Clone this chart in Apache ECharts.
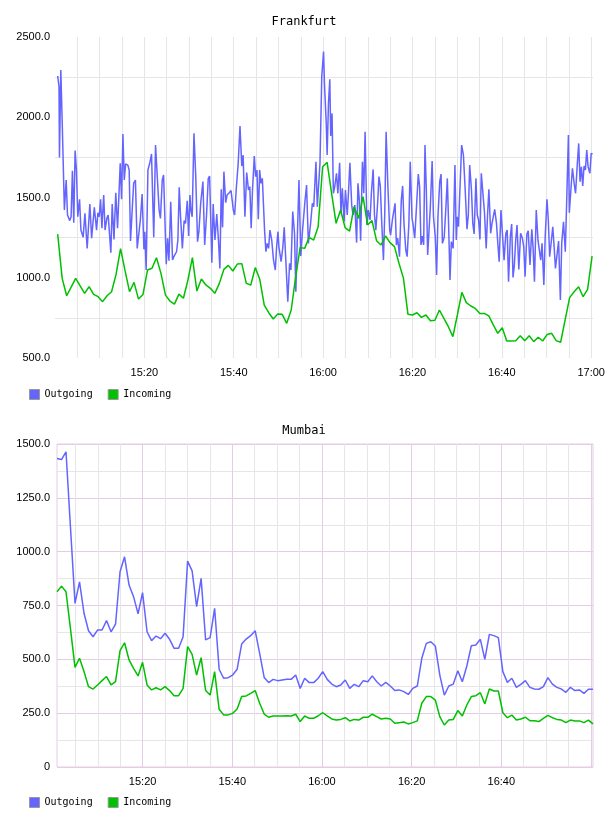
<!DOCTYPE html>
<html>
<head>
<meta charset="utf-8">
<script src="https://cdn.jsdelivr.net/npm/echarts@6/dist/echarts.min.js"></script>
<style>
  body { margin: 0; background: #fff; }
  .chart { position: absolute; left: 0; width: 608px; height: 408px; }
</style>
</head>
<body>
<div id="frankfurt" class="chart" style="top: 0"></div>
<div id="mumbai" class="chart" style="top: 408px"></div>
<script>
// all times are minutes after 15:00
const seriesNames = ['Outgoing', 'Incoming']
const seriesColors = ['#6464ff', '#00c000']

const frankfurtOutTimes = [
  0.6, 0.9, 1.0, 1.3, 1.6, 2.1, 2.5, 2.8, 3.3, 3.6,
  3.9, 4.2, 4.5, 4.8, 5.1, 5.5, 5.8, 6.3, 6.7, 7.2,
  7.8, 8.2, 8.8, 9.3, 9.6, 9.9, 10.2, 10.5, 10.9, 11.2,
  11.6, 11.9, 12.5, 12.8, 13.2, 13.6, 14.0, 14.6, 14.9, 15.2,
  15.5, 15.8, 16.3, 16.6, 16.9, 17.2, 17.6, 18.0, 18.4, 18.7,
  19.1, 19.5, 19.9, 20.1, 20.4, 20.8, 21.2, 21.6, 22.1, 22.5,
  22.9, 23.3, 23.6, 24.0, 24.3, 24.5, 24.9, 25.2, 25.5, 25.9,
  26.3, 26.6, 27.2, 27.5, 27.8, 28.1, 28.5, 28.9, 29.2, 29.6,
  29.9, 30.2, 30.4,
  30.7, 31.1, 31.5, 31.9, 32.2, 32.6, 33.1, 33.5, 33.9, 34.3,
  34.6, 35.1, 35.4, 35.8, 36.2, 36.6, 36.9, 37.2, 37.5, 37.8,
  38.2, 38.5, 39.0, 39.4, 39.9, 40.2, 40.6, 41.0, 41.4, 41.8,
  42.1, 42.5, 42.9, 43.3, 43.6, 43.9, 44.2, 44.6, 44.9, 45.2,
  45.5, 45.8, 46.1, 46.4, 46.9, 47.2, 47.5, 47.8, 48.1, 48.5,
  48.9, 49.3, 49.6, 49.9, 50.1, 50.6, 51.0, 51.3, 51.7, 52.1,
  52.5, 52.8, 53.2, 53.6, 53.9, 54.3, 54.6, 55.0, 55.4, 55.9,
  56.3, 56.7, 57.2, 57.6, 57.9, 58.4, 58.7, 59.0, 59.3, 59.7,
  60.1,
  60.3, 60.7, 60.9, 61.2, 61.5, 61.7, 62.0, 62.3, 62.6, 63.0,
  63.3, 63.7, 64.0, 64.3, 64.7, 65.0, 65.4, 65.7, 66.0, 66.4,
  66.7, 67.1, 67.5, 67.8, 68.1, 68.4, 68.8, 69.1, 69.4, 69.8,
  70.1, 70.5, 70.8, 71.2, 71.5, 71.8, 72.2, 72.5, 72.8, 73.1,
  73.5, 73.8, 74.1, 74.5, 74.9, 75.1, 75.5, 75.8, 76.1, 76.4,
  76.7, 77.1, 77.5, 77.8, 78.1, 78.5, 78.8, 79.2, 79.5, 79.9,
  80.1, 80.5, 80.9, 81.3, 81.6, 81.9, 82.2, 82.5, 82.8, 83.1,
  83.4, 83.7, 84.0, 84.4, 84.7, 85.1, 85.4, 85.7, 86.1, 86.4,
  86.7, 87.1, 87.5, 87.8, 88.1, 88.4, 88.7, 89.1, 89.5, 89.8,
  90.0, 90.3, 90.6, 91.0, 91.4, 91.8, 92.2, 92.5, 92.8, 93.2,
  93.5, 93.8, 94.2, 94.5, 94.8, 95.1, 95.4, 95.7, 96.1, 96.5,
  96.8, 97.1, 97.5, 97.8, 98.1, 98.4, 98.8, 99.1, 99.4, 99.8,
  100.1, 100.5, 100.9, 101.2, 101.5, 101.9, 102.2, 102.5, 102.8, 103.1,
  103.4, 103.8, 104.2, 104.6, 104.9, 105.2, 105.6, 105.9, 106.3, 106.7,
  107.0, 107.3, 107.7, 108.1, 108.4, 108.7, 109.0, 109.4, 109.7, 110.1,
  110.4, 110.7, 111.1, 111.4, 111.7, 112.0, 112.4, 112.7, 113.1, 113.4,
  113.8, 114.2, 114.5, 114.9, 115.1, 115.5, 115.8, 116.2, 116.5, 116.9,
  117.2, 117.5, 117.8, 118.1, 118.4, 118.7, 119.0, 119.3, 119.7, 120.0,
  120.3
]
const frankfurtOutgoing = [
  2257, 2190, 1750, 2294, 1983, 1422, 1609, 1391, 1356, 1380,
  1667, 1343, 1792, 1671, 1380, 1489, 1297, 1252, 1401, 1183,
  1459, 1246, 1439, 1297, 1405, 1380, 1489, 1308, 1515, 1297,
  1370, 1391, 1156, 1459, 1239, 1530, 1308, 1713, 1489, 1896,
  1609, 1709, 1702, 1671, 1229, 1235, 1588, 1609, 1183, 1173,
  1360, 1522, 1177, 1287, 1048, 1671, 1713, 1771, 1252, 1827,
  1827, 1422, 1370, 1609, 1640, 1630, 1084, 1246, 1106, 1474,
  1110, 1131, 1162, 1235, 1563, 1380, 1183, 1356, 1339, 1480,
  1260, 1515, 1422,
  1380, 1900, 1630, 1225, 1287, 1464, 1599, 1204, 1385, 1619,
  1634, 1094, 1459, 1235, 1397, 1225, 1058, 1551, 1314, 1661,
  1468, 1515, 1530, 1543, 1422, 1391, 1567, 1713, 1945, 1696,
  1765, 1380, 1655, 1547, 1567, 1308, 1547, 1758, 1630, 1671,
  1364, 1671, 1588, 1619, 1297, 1162, 1214, 1183, 1297, 1235,
  1110, 1048, 1194, 1287, 1194, 1100, 1194, 1314, 1318, 851,
  1090, 1048, 1412, 1277, 913, 1318, 1609, 1135, 1297, 1464,
  1578, 1214, 1339, 1464, 1443, 1723, 1443, 1432, 1713, 2253,
  2409,
  2211, 1962, 1765, 2087, 2236, 1883, 2024, 1526, 1567, 1651,
  1526, 1717, 1401, 1557, 1349, 1547, 1391, 1543, 1717, 1453,
  1391, 1453, 1219, 1588, 1484, 1231, 1723, 1526, 1910, 1329,
  1422, 1360, 1526, 1675, 1391, 1297, 1464, 1630, 1572, 1360,
  1110, 1405, 1910, 1567, 1297, 1266, 1360, 1370, 1464, 1204,
  1246, 1131, 1484, 1572, 1339, 1173, 1131, 1339, 1723, 1370,
  1339, 1246, 1443, 1646, 1567, 1204, 1260, 1204, 1827, 1547,
  1142, 1152, 1443, 1727, 1380, 1256, 1017, 1380, 1599, 1646,
  1214, 1252, 1447, 1619, 1318, 986, 1225, 1183, 1702, 1235,
  1380, 1318, 1318, 1827, 1765, 1547, 1302, 1391, 1702, 1547,
  1339, 1273, 1619, 1391, 1360, 1239, 1651, 1640, 1412, 1183,
  1391, 1551, 1277, 1339, 1343, 1426, 1339, 1214, 1100, 1422,
  1426, 1110, 1277, 1297, 975, 1256, 1335, 1002, 1079, 1235,
  1329, 1052, 1277, 1246, 1194, 1007, 1273, 1293, 1079, 1302,
  1183, 975, 1422, 1231, 1225, 1110, 1214, 955, 1256, 1489,
  1360, 1131, 1235, 1318, 1194, 1058, 1048, 1229, 861, 1214,
  1349, 1162, 1464, 1889, 1405, 1567, 1682, 1584, 1526, 1713,
  1837, 1599, 1692, 1572, 1696, 1671, 1796, 1692, 1651, 1775,
  1771
]

// incoming is sampled about once a minute
const frankfurtInStart = 0.6
const frankfurtInStep = 1.005
const frankfurtIncoming = [
  1272, 996, 888, 942, 996, 950, 903, 944, 896, 882,
  851, 888, 913, 1021, 1181, 1044, 913, 971, 867, 896,
  1048, 1059, 1125, 1027, 892, 855, 836, 898, 872, 986,
  1125, 917, 992, 955, 934, 903, 965, 1052, 1077, 1042,
  1085, 1088, 965, 955, 1063, 990, 830, 782, 743, 774,
  772, 716, 799, 1007, 1189, 1183, 1252, 1235, 1318, 1692,
  1719, 1526, 1339, 1422, 1312, 1291, 1443, 1370, 1505, 1329,
  1356, 1231, 1204, 1260, 1219, 1194, 1090, 996, 772, 768,
  782, 753, 768, 732, 735, 799, 747, 695, 633, 768,
  909, 845, 824, 809, 778, 778, 762, 706, 654, 689,
  606, 606, 608, 639, 608, 639, 602, 629, 606, 647,
  654, 608, 598, 737, 876, 913, 944, 882, 928, 1135
]

const mumbaiStart = 0.9
const mumbaiStep = 1.0045
const mumbaiOutgoing = [
  1433, 1428, 1464, 1110, 760, 860, 714, 633, 605, 636,
  636, 680, 628, 663, 907, 976, 845, 791, 711, 810,
  628, 587, 608, 596, 621, 593, 551, 551, 605, 956,
  911, 745, 876, 590, 601, 737, 454, 412, 415, 427,
  454, 571, 594, 610, 633, 528, 416, 392, 407, 401,
  404, 407, 407, 427, 365, 412, 392, 392, 412, 443,
  407, 385, 373, 381, 404, 365, 384, 373, 401, 396,
  423, 396, 376, 393, 376, 355, 358, 350, 337, 365,
  376, 505, 574, 582, 562, 427, 334, 376, 385, 447,
  396, 469, 563, 567, 593, 500, 616, 610, 601, 443,
  393, 412, 370, 384, 401, 370, 362, 361, 373, 415,
  385, 370, 362, 347, 370, 355, 358, 342, 361, 361
]
const mumbaiIncoming = [
  814, 840, 814, 640, 463, 505, 443, 373, 362, 381,
  401, 420, 381, 396, 540, 577, 497, 458, 423, 486,
  381, 358, 368, 358, 373, 355, 331, 331, 365, 559,
  523, 427, 508, 355, 334, 443, 268, 242, 242, 249,
  269, 327, 330, 342, 355, 296, 246, 231, 237, 237,
  237, 238, 237, 245, 211, 237, 226, 226, 238, 252,
  237, 223, 218, 221, 229, 214, 221, 218, 231, 231,
  245, 234, 223, 226, 223, 203, 206, 209, 200, 206,
  214, 296, 327, 327, 311, 234, 195, 218, 221, 262,
  237, 288, 327, 331, 345, 293, 362, 353, 353, 252,
  229, 241, 218, 223, 231, 215, 215, 211, 226, 240,
  229, 221, 218, 206, 218, 214, 214, 206, 218, 200
]

const mumbaiTickMinutes = [5, 10, 15, 20, 25, 30, 35, 40, 45, 50, 55, 60,
  65, 70, 75, 80, 85, 90, 95, 100, 105, 110, 115, 120]
const mumbaiLabelMinutes = [20, 40, 60, 80, 100]

const gridGray = '#e6e6e6'
const gridPink = '#e4cce4'
const monoFont = 'DejaVu Sans Mono'
const tickFont = { fontFamily: 'Liberation Sans', fontSize: 11, color: '#000' }

const timeLabel = (m) => {
  const h = 15 + Math.floor(m / 60)
  const mm = Math.round(m % 60)
  return h + ':' + String(mm).padStart(2, '0')
}
const valueLabel = (v) => (v === 0 ? '0' : v.toFixed(1))

const regular = (start, step, values) => values.map((v, i) => [start + i * step, v])

const legendBase = {
  left: 24,
  top: 384,
  icon: 'rect',
  itemWidth: 10,
  itemHeight: 10,
  itemGap: 15,
  itemStyle: { borderColor: '#999', borderWidth: 1 },
  textStyle: { fontFamily: monoFont, fontSize: 10, color: '#000' },
  data: seriesNames
}

const lineSeries = (i, data) => ({
  name: seriesNames[i],
  type: 'line',
  data: data,
  showSymbol: false,
  symbol: 'none',
  color: seriesColors[i],
  lineStyle: { width: 1.5, color: seriesColors[i] }
})

const titleStyle = { fontFamily: monoFont, fontSize: 12, fontWeight: 'normal', color: '#000' }

const frankfurtChart = echarts.init(document.getElementById('frankfurt'))
frankfurtChart.setOption({
  animation: false,
  title: { text: 'Frankfurt', left: 'center', top: 11, textStyle: titleStyle },
  legend: legendBase,
  grid: { left: 55, top: 37, width: 538, height: 321 },
  xAxis: {
    type: 'value',
    min: 0,
    max: 120.4,
    interval: 5,
    axisLine: { show: false },
    axisTick: { show: false },
    axisLabel: {
      ...tickFont,
      margin: 9,
      formatter: (v) => (v > 0 && v % 20 === 0 ? timeLabel(v) : '')
    },
    splitLine: { showMinLine: false, showMaxLine: false, lineStyle: { color: gridGray } }
  },
  yAxis: {
    type: 'value',
    min: 500,
    max: 2500,
    interval: 250,
    axisLine: { show: false },
    axisTick: { show: false },
    axisLabel: {
      ...tickFont,
      margin: 5,
      formatter: (v) => (v % 500 === 0 ? valueLabel(v) : '')
    },
    // only the lines half way between labels are drawn
    splitLine: { lineStyle: { color: ['rgba(0,0,0,0)', gridGray] } }
  },
  series: [
    lineSeries(0, frankfurtOutTimes.map((t, i) => [t, frankfurtOutgoing[i]])),
    lineSeries(1, regular(frankfurtInStart, frankfurtInStep, frankfurtIncoming))
  ]
})

const mumbaiChart = echarts.init(document.getElementById('mumbai'))
mumbaiChart.setOption({
  animation: false,
  title: { text: 'Mumbai', left: 'center', top: 12, textStyle: titleStyle },
  legend: legendBase,
  grid: {
    left: 57, top: 36, width: 536, height: 323,
    show: true, borderColor: gridPink, borderWidth: 1
  },
  xAxis: {
    type: 'value',
    min: 0.9,
    max: 120.45,
    axisLine: { show: false },
    axisTick: { show: false, customValues: mumbaiTickMinutes },
    axisLabel: {
      ...tickFont,
      margin: 9,
      customValues: mumbaiLabelMinutes,
      formatter: (v) => timeLabel(v)
    },
    splitLine: { lineStyle: { color: [gridGray, gridGray, gridGray, gridPink] } }
  },
  yAxis: {
    type: 'value',
    min: 0,
    max: 1500,
    interval: 125,
    axisLine: { show: false },
    axisTick: { show: false },
    axisLabel: {
      ...tickFont,
      margin: 7,
      formatter: (v) => (v % 250 === 0 ? valueLabel(v) : '')
    },
    splitLine: { lineStyle: { color: [gridPink, gridGray] } }
  },
  series: [
    lineSeries(0, regular(mumbaiStart, mumbaiStep, mumbaiOutgoing)),
    lineSeries(1, regular(mumbaiStart, mumbaiStep, mumbaiIncoming))
  ]
})
</script>
</body>
</html>
